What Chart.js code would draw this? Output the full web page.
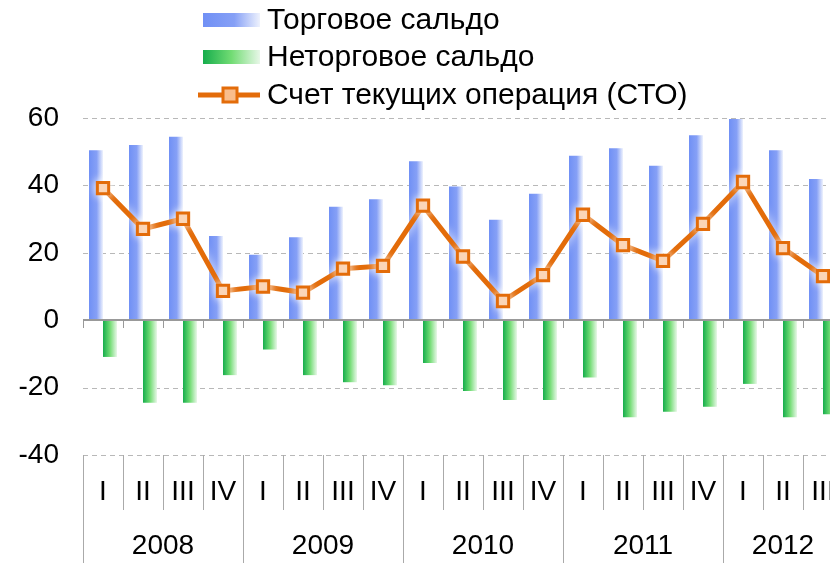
<!DOCTYPE html>
<html>
<head>
  <meta charset="utf-8">
  <script src="https://cdn.jsdelivr.net/npm/chart.js@4.4.0/dist/chart.umd.min.js"></script>
  <style>
    html, body { margin: 0; padding: 0; background: #fff; overflow: hidden; }
    #wrap { position: absolute; left: 0; top: 0; width: 843px; height: 563px; }
  </style>
</head>
<body>
  <div id="wrap">
    <canvas id="myChart" width="843" height="563"></canvas>
  </div>
  <script>
  // quarters 2008 I .. 2012 III
  const quarters = ['I','II','III','IV','I','II','III','IV','I','II','III','IV','I','II','III','IV','I','II','III'];
  const years = ['2008', '2009', '2010', '2011', '2012'];
  const yTicks = [-40, -20, 0, 20, 40, 60];

  const tradeBalance = [50.4, 52, 54.4, 25, 19.4, 24.6, 33.7, 35.9, 47.2, 39.7, 29.8, 37.5, 48.8, 51, 45.8, 54.9, 59.7, 50.4, 41.9];
  const nonTradeBalance = [-10.9, -24.5, -24.5, -16.3, -8.7, -16.3, -18.4, -19.3, -12.7, -21, -23.7, -23.7, -17, -28.8, -27.2, -25.7, -18.9, -28.8, -27.9];
  const currentAccount = [39.2, 27.1, 30.1, 8.7, 10, 8.2, 15.3, 16.1, 34, 18.9, 5.7, 13.4, 31.3, 22.3, 17.6, 28.6, 41, 21.4, 13.1];

  const FONT = "'Liberation Sans', Arial, sans-serif";
  const blueStops = [[0, '#7090f5'], [0.55, '#86a0f6'], [1, '#eef2fd']];
  const greenStops = [[0, '#16ad4c'], [0.5, '#72dc74'], [1, '#e8f7e8']];

  // horizontal gradient across one bar
  function barFill(stops, side) {
    return function(context) {
      const chart = context.chart;
      const xs = chart.scales.x;
      if (!chart.chartArea || !xs || context.type !== 'data') return stops[0][1];
      const center = xs.getPixelForValue(context.dataIndex);
      const w = (xs.width / quarters.length) * 0.35;
      const left = side < 0 ? center - w : center;
      const g = chart.ctx.createLinearGradient(left, 0, left + w, 0);
      stops.forEach(s => g.addColorStop(s[0], s[1]));
      return g;
    };
  }

  const extras = {
    id: 'extras',
    beforeDatasetsDraw(chart) {
      const ctx = chart.ctx, area = chart.chartArea, ys = chart.scales.y;
      ctx.save();
      ctx.lineWidth = 1;
      ctx.strokeStyle = '#b8b8b8';
      ctx.setLineDash([5, 4]);
      yTicks.forEach(v => {
        if (v === 0) return;
        const y = Math.round(ys.getPixelForValue(v)) + 0.5;
        ctx.beginPath(); ctx.moveTo(area.left, y); ctx.lineTo(area.right, y); ctx.stroke();
      });
      ctx.restore();
    },
    beforeDatasetDraw(chart, args) {
      if (chart.data.datasets[args.index].type === 'line') {
        chart.ctx.save();
        chart.ctx.shadowColor = 'rgba(255,255,255,1)';
        chart.ctx.shadowBlur = 10;
      }
    },
    afterDatasetDraw(chart, args) {
      if (chart.data.datasets[args.index].type === 'line') chart.ctx.restore();
    },
    afterDraw(chart) {
      const ctx = chart.ctx, area = chart.chartArea, ys = chart.scales.y, xs = chart.scales.x;
      const catW = xs.width / quarters.length;
      const zeroY = Math.round(ys.getPixelForValue(0));
      ctx.save();
      // zero line + tick marks
      ctx.strokeStyle = '#999';
      ctx.lineWidth = 2;
      ctx.beginPath(); ctx.moveTo(area.left, zeroY); ctx.lineTo(area.right, zeroY); ctx.stroke();
      ctx.lineWidth = 1;
      for (let i = 0; i <= quarters.length; i++) {
        const x = Math.round(area.left + i * catW) + 0.5;
        ctx.beginPath(); ctx.moveTo(x, zeroY); ctx.lineTo(x, zeroY + 8); ctx.stroke();
      }
      // category table under the plot
      const top = area.bottom;
      ctx.strokeStyle = '#aaa';
      for (let i = 0; i <= quarters.length; i++) {
        const x = Math.round(area.left + i * catW) + 0.5;
        ctx.beginPath(); ctx.moveTo(x, top); ctx.lineTo(x, i % 4 === 0 ? 563 : 510); ctx.stroke();
      }
      ctx.fillStyle = '#000';
      ctx.font = '28px ' + FONT;
      ctx.textAlign = 'center';
      ctx.textBaseline = 'middle';
      quarters.forEach((q, i) => ctx.fillText(q, xs.getPixelForValue(i), 492));
      years.forEach((yr, k) => {
        const first = k * 4;
        const count = Math.min(4, quarters.length - first);
        const x = area.left + (first + count / 2) * catW;
        ctx.fillText(yr, x, 546);
      });
      // legend
      const lx = 203, tx = 267, rows = [20, 57, 95];
      ctx.textAlign = 'left';
      [[blueStops, 0], [greenStops, 1]].forEach(([stops, r]) => {
        const g = ctx.createLinearGradient(lx, 0, lx + 57, 0);
        stops.forEach(s => g.addColorStop(s[0], s[1]));
        ctx.fillStyle = g;
        ctx.fillRect(lx, rows[r] - 7, 57, 14);
      });
      ctx.strokeStyle = '#e36c0a';
      ctx.lineWidth = 5;
      ctx.beginPath(); ctx.moveTo(198, rows[2]); ctx.lineTo(260, rows[2]); ctx.stroke();
      ctx.fillStyle = '#f9bd8c';
      ctx.lineWidth = 3;
      ctx.fillRect(223, rows[2] - 7, 14, 14);
      ctx.strokeRect(223, rows[2] - 7, 14, 14);
      ctx.fillStyle = '#000';
      ctx.font = '30px ' + FONT;
      chart.data.datasets.forEach((ds, i) => {
        const r = ds.type === 'line' ? 2 : i;
        ctx.fillText(ds.label, tx, rows[r] + 1);
      });
      ctx.restore();
    }
  };

  const ctx = document.getElementById('myChart').getContext('2d');
  const myChart = new Chart(ctx, {
    data: {
      labels: quarters,
      datasets: [{
        type: 'bar',
        label: 'Торговое сальдо',
        data: tradeBalance,
        backgroundColor: barFill(blueStops, -1),
        order: 1
      }, {
        type: 'bar',
        label: 'Неторговое сальдо',
        data: nonTradeBalance,
        backgroundColor: barFill(greenStops, 1),
        order: 2
      }, {
        type: 'line',
        label: 'Счет текущих операция (СТО)',
        data: currentAccount,
        borderColor: '#e36c0a',
        borderWidth: 5,
        pointStyle: 'rect',
        pointRadius: 8,
        pointBorderWidth: 3,
        pointBackgroundColor: '#f9bd8c',
        pointBorderColor: '#e36c0a',
        tension: 0,
        clip: false,
        order: 0
      }]
    },
    options: {
      responsive: false,
      animation: false,
      devicePixelRatio: 1,
      layout: { autoPadding: false, padding: { top: 118, bottom: 108, left: 0, right: 0 } },
      plugins: { legend: { display: false }, tooltip: { enabled: false } },
      datasets: { bar: { categoryPercentage: 0.7, barPercentage: 1.0 } },
      scales: {
        x: { display: false, offset: true },
        y: {
          min: -40, max: 60,
          afterFit: s => { s.width = 83; },
          grid: { display: false, drawTicks: false },
          border: { display: false },
          ticks: {
            stepSize: 20,
            padding: 24,
            color: '#000',
            font: { family: FONT, size: 28 }
          }
        }
      }
    },
    plugins: [extras]
  });
  </script>
</body>
</html>
